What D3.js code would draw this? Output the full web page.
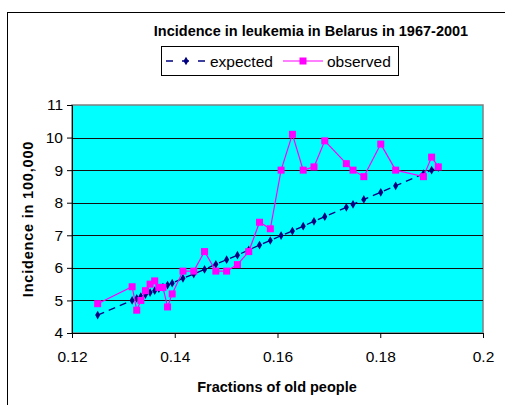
<!DOCTYPE html>
<html>
<head>
<meta charset="utf-8">
<script src="https://cdn.jsdelivr.net/npm/d3@7"></script>
<style>
  body { margin: 0; background: #fff; }
  svg { display: block; }
  text { font-family: Arial, "Liberation Sans", sans-serif; }
</style>
</head>
<body>
<div id="chart"></div>
<script>
// fraction of old people, one value per year (1967-2001)
var fractions = [0.125, 0.1317, 0.1326, 0.1334, 0.1343, 0.1352, 0.1361, 0.1369, 0.1377, 0.1386,
                 0.1395, 0.1416, 0.1437, 0.1458, 0.1480, 0.1501, 0.1522, 0.1544, 0.1565, 0.1586,
                 0.1607, 0.1629, 0.1650, 0.1671, 0.1692, 0.1734, 0.1747, 0.1768, 0.1801, 0.1830,
                 0.1884, 0.1900, 0.1913];
var expected = [4.55, 5.00, 5.06, 5.12, 5.18, 5.24, 5.30, 5.36, 5.41, 5.47,
                5.53, 5.68, 5.81, 5.95, 6.11, 6.25, 6.39, 6.55, 6.70, 6.84,
                6.99, 7.13, 7.28, 7.43, 7.57, 7.86, 7.95, 8.10, 8.32, 8.52,
                8.89, 9.00, 9.08];
var observed = [4.9, 5.42, 4.7, 5.0, 5.3, 5.5, 5.6, 5.4, 5.4, 4.8,
                5.2, 5.9, 5.9, 6.5, 5.9, 5.9, 6.1, 6.5, 7.4, 7.2,
                9.0, 10.1, 9.0, 9.1, 9.9, 9.2, 9.0, 8.8, 9.8, 9.0,
                8.8, 9.4, 9.1];
var xTicks = [0.12, 0.14, 0.16, 0.18, 0.2];
var yTicks = [4, 5, 6, 7, 8, 9, 10, 11];

var W = 505, H = 405;
// plot area edges (note: "top" is reserved on window)
var pLeft = 72, pRight = 483, pTop = 105, pBottom = 333;

var svg = d3.select("#chart").append("svg")
    .attr("width", W).attr("height", H);

// outer chart frame
svg.append("rect").attr("x", 7.5).attr("y", 12.5).attr("width", 520).attr("height", 420)
   .style("fill", "white").style("stroke", "black").style("stroke-width", 1);

var x = d3.scaleLinear().domain([0.12, 0.2]).range([pLeft, pRight]);
var y = d3.scaleLinear().domain([4, 11]).range([pBottom, pTop]);

// plot area
svg.append("rect").attr("x", pLeft).attr("y", pTop)
   .attr("width", pRight - pLeft).attr("height", pBottom - pTop)
   .style("fill", "#00FFFF").style("stroke", "#808080").style("stroke-width", 1.5);

// gridlines
svg.append("g").selectAll("line")
   .data(yTicks.filter(function(d) { return d > 4 && d < 11; }))
   .enter().append("line")
   .attr("x1", pLeft).attr("x2", pRight)
   .attr("y1", function(d) { return Math.round(y(d)) + 0.5; })
   .attr("y2", function(d) { return Math.round(y(d)) + 0.5; })
   .style("stroke", "#111").style("stroke-width", 1);

// axes
var xAxis = svg.append("g").attr("transform", "translate(0," + pBottom + ")")
   .call(d3.axisBottom(x).tickValues(xTicks).tickSize(5).tickFormat(function(d) { return String(+d.toFixed(2)); }));
var yAxis = svg.append("g").attr("transform", "translate(" + pLeft + ",0)")
   .call(d3.axisLeft(y).tickValues(yTicks).tickSize(5).tickFormat(d3.format("d")));
[xAxis, yAxis].forEach(function(a) {
  a.select(".domain").style("stroke", "black");
  a.selectAll(".tick line").style("stroke", "black");
  a.selectAll("text").style("font-size", "15.5px").style("font-family", "Arial, 'Liberation Sans', sans-serif").attr("fill", "#000");
});
xAxis.selectAll("text").attr("dy", "1.35em");
yAxis.selectAll("text").attr("x", -9);

// expected series: dashed navy with small diamonds
var line = d3.line().x(function(d) { return x(d[0]); }).y(function(d) { return y(d[1]); });
var expData = fractions.map(function(f, i) { return [f, expected[i]]; });
var obsData = fractions.map(function(f, i) { return [f, observed[i]]; });

svg.append("path").datum(expData).attr("d", line)
   .style("fill", "none").style("stroke", "#000080").style("stroke-width", 1.3)
   .style("stroke-dasharray", "7,5");
svg.append("g").selectAll("path").data(expData).enter().append("path")
   .attr("d", d3.symbol().type(d3.symbolDiamond).size(22))
   .attr("transform", function(d) { return "translate(" + x(d[0]) + "," + y(d[1]) + ")"; })
   .style("fill", "#000080");

// observed series: magenta with squares
svg.append("path").datum(obsData).attr("d", line)
   .style("fill", "none").style("stroke", "#FF00FF").style("stroke-width", 1.2);
svg.append("g").selectAll("rect").data(obsData).enter().append("rect")
   .attr("x", function(d) { return x(d[0]) - 3.5; })
   .attr("y", function(d) { return y(d[1]) - 3.5; })
   .attr("width", 7).attr("height", 7)
   .style("fill", "#FF00FF");

// title
svg.append("text").attr("x", 311).attr("y", 36).attr("text-anchor", "middle")
   .style("font-size", "14.5px").style("font-weight", "bold")
   .text("Incidence in leukemia in Belarus in 1967-2001");

// legend
svg.append("rect").attr("x", 161.5).attr("y", 46.5).attr("width", 237).attr("height", 29)
   .style("fill", "white").style("stroke", "black").style("stroke-width", 1);
svg.append("line").attr("x1", 166).attr("x2", 206).attr("y1", 61).attr("y2", 61)
   .style("stroke", "#000080").style("stroke-width", 1.3).style("stroke-dasharray", "7,9");
svg.append("path").attr("d", d3.symbol().type(d3.symbolDiamond).size(22))
   .attr("transform", "translate(186,61)").style("fill", "#000080");
svg.append("text").attr("x", 210).attr("y", 66.5).style("font-size", "15.5px").text("expected");
svg.append("line").attr("x1", 283).attr("x2", 323).attr("y1", 61).attr("y2", 61)
   .style("stroke", "#FF00FF").style("stroke-width", 1.2);
svg.append("rect").attr("x", 299.5).attr("y", 57.5).attr("width", 7).attr("height", 7)
   .style("fill", "#FF00FF");
svg.append("text").attr("x", 327).attr("y", 66.5).style("font-size", "15.5px").text("observed");

// axis titles
svg.append("text").attr("x", 277).attr("y", 392).attr("text-anchor", "middle")
   .style("font-size", "14.5px").style("font-weight", "bold")
   .text("Fractions of old people");
svg.append("text").attr("transform", "translate(33,219) rotate(-90)").attr("text-anchor", "middle")
   .style("font-size", "14.5px").style("font-weight", "bold").style("letter-spacing", "0.8px")
   .text("Incidence in 100,000");
</script>
</body>
</html>
